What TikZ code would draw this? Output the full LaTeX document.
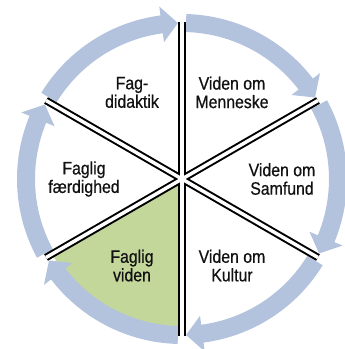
\documentclass[tikz,border=0pt]{standalone}
\usepackage{fontspec}
\setmainfont{Liberation Sans}[FakeStretch=0.88,FakeBold=0.6]
\usepackage{tikz}
\definecolor{ringblue}{HTML}{B3C3DE}
\definecolor{leaf}{HTML}{C4D79B}
\definecolor{ink}{HTML}{111111}

\begin{document}
\begin{tikzpicture}[x=1pt,y=1pt,font=\fontsize{18}{18.5}\selectfont,
   lbl/.style={align=center,inner sep=0pt,text=ink},
   arw/.style={fill=ringblue,draw=none},
   sepout/.style={draw=black,line width=7.5pt,line cap=butt},
   sepin/.style={draw=white,line width=3.5pt,line cap=butt}]
  \useasboundingbox (-182,-170) rectangle (163,179);
  \coordinate (c) at (0,0);
  % highlighted sector
  \fill[leaf] (c) -- (210:150) arc[start angle=210,end angle=270,radius=150] -- cycle;
  % clockwise ring of arrows
  \foreach \d [evaluate=\d as \s using \d-1.5, evaluate=\d as \t using \d-58.5,
               evaluate=\d as \h using \d-52.5] in {90,30,-30,-90,-150,-210}
    \fill[arw] (\s:147) arc[start angle=\s,end angle=\h,radius=147] -- (\h:138)
      -- (\t:156) -- (\h:174) -- (\h:165) arc[start angle=\h,end angle=\s,radius=165] -- cycle;
  % double dividers
  \foreach \a in {90,30,-30,-90,-150,-210}
    \draw[sepout] (c) -- (\a:157);
  \foreach \a in {90,30,-30,-90,-150,-210}
    \draw[sepin] (c) -- (\a:157);
  % labels
  \node[lbl] (fag) at (120:100) {Fag-\\didaktik};
  \node[lbl] (menn) at (60:100) {Viden om\\Menneske};
  \node[lbl] (samf) at (0:100) {Viden om\\Samfund};
  \node[lbl] (kult) at (-60:100) {Viden om\\Kultur};
  \node[lbl] (vid) at (-120:100) {Faglig\\viden};
  \node[lbl] (faerd) at (180:98) {Faglig\\færdighed};
\end{tikzpicture}
\end{document}
